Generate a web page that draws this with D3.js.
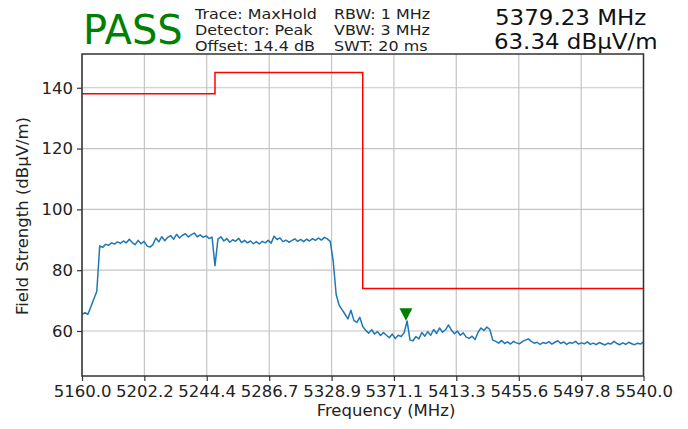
<!DOCTYPE html>
<html>
<head>
<meta charset="utf-8">
<script src="https://cdn.jsdelivr.net/npm/d3@7"></script>
<style>
  body { margin: 0; background: #fff; }
  svg { display: block; font-family: "DejaVu Sans", sans-serif; }
</style>
</head>
<body>
<svg width="688" height="429"></svg>
<script>
// sweep: 5160 MHz start, one point every 2 MHz
const sweepStart = 5160, sweepStep = 2;
const traceLevels = [
  65.5, 66.0, 65.5, 68.0, 70.5, 73.0,
  88.0, 87.5, 88.5, 88.2, 89.0, 88.6, 89.3, 88.8, 89.6, 89.0,
  90.2, 89.1, 88.4, 89.8, 88.7, 89.5, 88.0, 87.6, 88.4, 90.6,
  89.3, 91.0, 89.7, 90.8, 91.4, 90.2, 91.8, 90.6, 91.5, 92.0,
  90.9, 91.7, 92.2, 91.0, 91.6, 90.8, 91.3, 90.4, 90.9, 81.5,
  90.2, 91.0, 89.6, 90.4, 89.2, 90.0, 89.5, 90.5, 89.1, 89.8,
  89.0, 89.6, 88.7, 89.4, 88.6, 89.5, 89.0, 89.8, 88.9, 91.2,
  90.1, 90.6, 89.4, 89.9, 89.2, 89.7, 90.3, 89.5, 90.1, 89.4,
  90.2, 89.6, 90.4, 89.8, 90.6, 89.9, 90.8, 90.3, 89.5,
  83.0, 72.0, 68.5, 67.0, 65.5, 64.0, 66.8, 63.5, 62.8, 64.5,
  61.5, 60.2, 59.3, 60.4, 59.0, 59.8, 58.5, 59.5, 58.6, 57.8,
  59.0, 57.5, 58.6, 58.2, 59.4,
  63.3, 57.0, 56.8, 58.2, 57.4, 59.5, 58.3, 59.8, 58.6, 60.5,
  59.2, 61.0, 59.6, 60.4, 62.0, 60.3, 59.1, 60.0, 58.6, 59.4,
  58.0, 57.6, 58.3, 57.2, 59.5, 61.0, 60.2, 61.3, 60.5, 57.0,
  56.6, 56.0, 56.9, 55.9, 56.4, 55.7, 56.6, 56.1, 55.8, 56.5,
  57.0, 57.4, 56.6, 56.0, 56.3, 55.6, 56.2, 55.9, 56.5, 55.7,
  56.3, 56.8, 55.9, 56.4, 55.6, 56.2, 56.0, 56.6, 55.7, 56.1,
  55.8, 56.4, 55.6, 56.0, 55.5, 56.2, 55.8, 55.4, 56.0, 55.7,
  56.6, 55.9, 55.5, 56.1, 55.6, 56.3, 55.8, 55.5, 56.0, 55.7,
  56.4
];
const limitFreqs = [5160, 5250, 5250, 5350, 5350, 5540];
const limitLevels = [138, 138, 145, 145, 74, 74];
const markerFreq = 5379.23, markerLevel = 63.34;
const xTicks = [5160.0, 5202.2, 5244.4, 5286.7, 5328.9, 5371.1, 5413.3, 5455.6, 5497.8, 5540.0];
const yTicks = [60, 80, 100, 120, 140];
const verdict = "PASS";
const infoCol1 = ["Trace: MaxHold", "Detector: Peak", "Offset: 14.4 dB"];
const infoCol2 = ["RBW: 1 MHz", "VBW: 3 MHz", "SWT: 20 ms"];

const margin = {left: 82, right: 44.5, top: 54, bottom: 53};
const W = 688, H = 429;
const svg = d3.select("svg");

const x = d3.scaleLinear().domain([5160, 5540]).range([margin.left, W - margin.right]);
const y = d3.scaleLinear().domain([45.2, 151.1]).range([H - margin.bottom, margin.top]);

// grid
const grid = svg.append("g").attr("stroke", "#c4c4c4").attr("stroke-width", 1.2);
grid.selectAll(".gx").data(xTicks).enter().append("line")
  .attr("x1", d => x(d)).attr("x2", d => x(d))
  .attr("y1", margin.top).attr("y2", H - margin.bottom);
grid.selectAll(".gy").data(yTicks).enter().append("line")
  .attr("x1", margin.left).attr("x2", W - margin.right)
  .attr("y1", d => y(d)).attr("y2", d => y(d));

svg.append("clipPath").attr("id", "plot")
  .append("rect")
  .attr("x", margin.left).attr("y", margin.top)
  .attr("width", W - margin.left - margin.right)
  .attr("height", H - margin.top - margin.bottom);

const trace = traceLevels.map((v, i) => [sweepStart + i * sweepStep, v]);
const line = d3.line().x(d => x(d[0])).y(d => y(d[1]));

svg.append("path")
  .datum(trace)
  .attr("clip-path", "url(#plot)")
  .attr("fill", "none")
  .attr("stroke", "#1f77b4")
  .attr("stroke-width", 1.5)
  .attr("stroke-linejoin", "round")
  .attr("d", line);

svg.append("path")
  .datum(limitFreqs.map((f, i) => [f, limitLevels[i]]))
  .attr("clip-path", "url(#plot)")
  .attr("fill", "none")
  .attr("stroke", "#ff0000")
  .attr("stroke-width", 1.5)
  .attr("d", line);

// marker
const mx = x(markerFreq), my = y(markerLevel);
svg.append("path")
  .attr("d", `M${mx - 6.5},${my - 12.5}L${mx + 6.5},${my - 12.5}L${mx},${my}Z`)
  .attr("fill", "#008000");

// axes
const xAxis = svg.append("g")
  .attr("transform", `translate(0,${H - margin.bottom})`)
  .call(d3.axisBottom(x).tickValues(xTicks).tickFormat(d3.format(".1f")).tickSize(5).tickPadding(4));
const yAxis = svg.append("g")
  .attr("transform", `translate(${margin.left},0)`)
  .call(d3.axisLeft(y).tickValues(yTicks).tickSize(5).tickPadding(4));
[xAxis, yAxis].forEach(a => {
  a.select(".domain").remove();
  a.selectAll(".tick line").attr("stroke", "#333").attr("stroke-width", 1.2);
  a.selectAll("text").attr("fill", "#222").style("font-size", "16.5px").style("font-family", "DejaVu Sans");
});

svg.append("rect")
  .attr("x", margin.left).attr("y", margin.top)
  .attr("width", W - margin.left - margin.right)
  .attr("height", H - margin.top - margin.bottom)
  .attr("fill", "none").attr("stroke", "#333").attr("stroke-width", 1.5);

svg.append("text")
  .attr("x", 386).attr("y", 416)
  .attr("text-anchor", "middle").attr("fill", "#222")
  .style("font-size", "16.5px")
  .text("Frequency (MHz)");

svg.append("text")
  .attr("transform", `translate(28,${(margin.top + H - margin.bottom) / 2 + 1}) rotate(-90)`)
  .attr("text-anchor", "middle").attr("fill", "#222")
  .style("font-size", "16.5px")
  .text("Field Strength (dBµV/m)");

// header
svg.append("text")
  .attr("x", 83).attr("y", 44)
  .attr("fill", "#008000")
  .style("font-size", "40px")
  .text(verdict);

[infoCol1, infoCol2].forEach((col, c) => {
  svg.append("g")
    .attr("transform", `translate(${c === 0 ? 195 : 334},0) scale(1.1,1)`)
    .selectAll("text").data(col).enter().append("text")
    .attr("x", 0)
    .attr("y", (d, i) => 19 + i * 16)
    .attr("fill", "#222")
    .style("font-size", "14.5px")
    .text(d => d);
});

const readout = svg.append("g").attr("transform", "translate(495,0) scale(1.12,1)");
readout.append("text")
  .attr("x", 0).attr("y", 25)
  .attr("fill", "#111")
  .style("font-size", "20.5px")
  .text(`${markerFreq.toFixed(2)} MHz`);
readout.append("text")
  .attr("x", -1).attr("y", 49)
  .attr("fill", "#111")
  .style("font-size", "20.5px")
  .text(`${markerLevel.toFixed(2)} dBµV/m`);
</script>
</body>
</html>
